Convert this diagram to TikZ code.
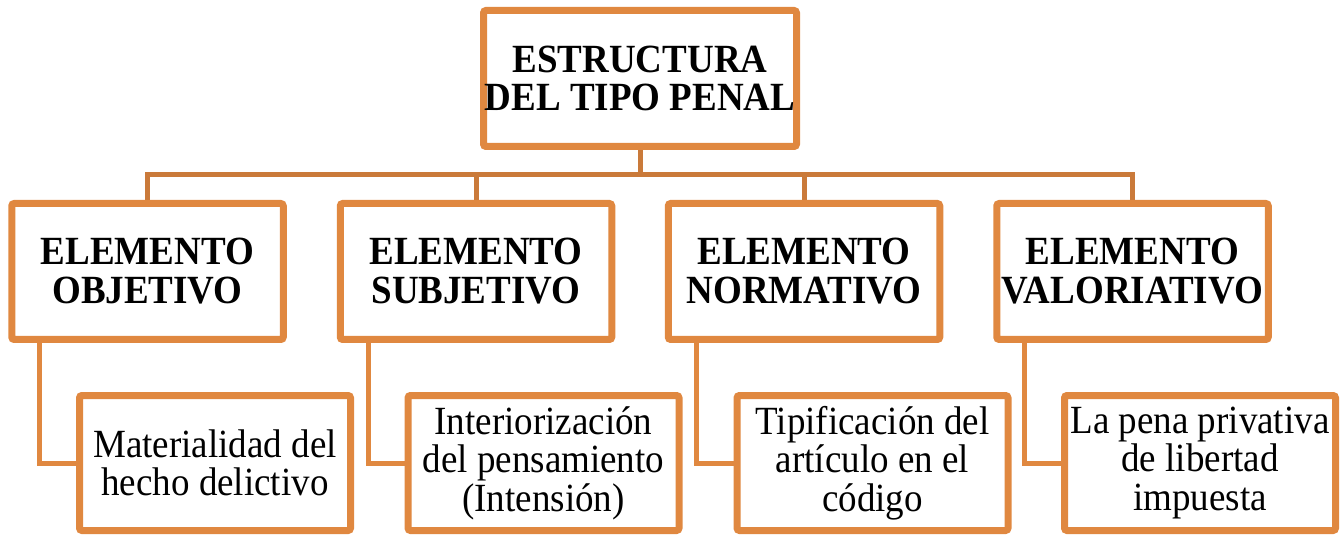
\documentclass[tikz,border=0pt]{standalone}
\usepackage{fontspec}
\setmainfont{Liberation Serif}[FakeStretch=0.925]
\usetikzlibrary{shadows}
\definecolor{boxor}{RGB}{224,136,64}
\definecolor{lineor}{RGB}{202,122,58}
\tikzset{
  box/.style={draw=boxor, line width=7pt, fill=white, rounded corners=2.5pt,
    align=center, inner sep=0pt,
    drop shadow={opacity=0.22, shadow xshift=1pt, shadow yshift=-2pt},
    font=\fontsize{40}{38.5}\selectfont},
  topbox/.style={box, minimum width=313pt, minimum height=136pt, font=\bfseries\fontsize{40}{38.5}\selectfont},
  midbox/.style={box, minimum width=271.5pt, minimum height=136pt, font=\bfseries\fontsize{40}{39}\selectfont},
  lowbox/.style={box, minimum width=271pt, minimum height=135pt},
  bus/.style={draw=lineor, line width=5pt},
  elbow/.style={draw=boxor, line width=5pt}
}
\begin{document}
\begin{tikzpicture}[x=1pt,y=1pt]
\useasboundingbox (0,0) rectangle (1344,536);
\coordinate (bus) at (640,361);
% connectors (drawn first, under boxes)
\coordinate (t) at (640,400);
\coordinate (m1) at (147.5,300);
\coordinate (m2) at (476,300);
\coordinate (m3) at (804,300);
\coordinate (m4) at (1132.5,300);
\draw[bus] (t) -- (bus);
\draw[bus] (bus) -| (m1);
\draw[bus] (bus) -| (m2);
\draw[bus] (bus) -| (m3);
\draw[bus] (bus) -| (m4);
\coordinate (e1) at (39,220);
\coordinate (e2) at (368,220);
\coordinate (e3) at (696,220);
\coordinate (e4) at (1024,220);
\coordinate (f1) at (100,73);
\coordinate (f2) at (430,73);
\coordinate (f3) at (760,73);
\coordinate (f4) at (1090,73);
\draw[elbow] (e1) |- (f1);
\draw[elbow] (e2) |- (f2);
\draw[elbow] (e3) |- (f3);
\draw[elbow] (e4) |- (f4);
% boxes
\node[topbox] (top) at (640,457.5) {ESTRUCTURA\\DEL TIPO PENAL};
\node[midbox] (a1) at (147.5,264.5) {ELEMENTO\\OBJETIVO};
\node[midbox] (a2) at (476,264.5) {ELEMENTO\\SUBJETIVO};
\node[midbox] (a3) at (804,264.5) {ELEMENTO\\NORMATIVO};
\node[midbox] (a4) at (1132.5,264.5) {ELEMENTO\\VALORIATIVO};
\node[lowbox] (b1) at (215,73) {Materialidad del\\hecho delictivo};
\node[lowbox] (b2) at (543.5,73) {Interiorización\\del pensamiento\\(Intensión)};
\node[lowbox] (b3) at (872.5,73) {Tipificación del\\artículo en el\\código};
\node[lowbox] (b4) at (1200,73) {La pena privativa\\de libertad\\impuesta};
\end{tikzpicture}
\end{document}
